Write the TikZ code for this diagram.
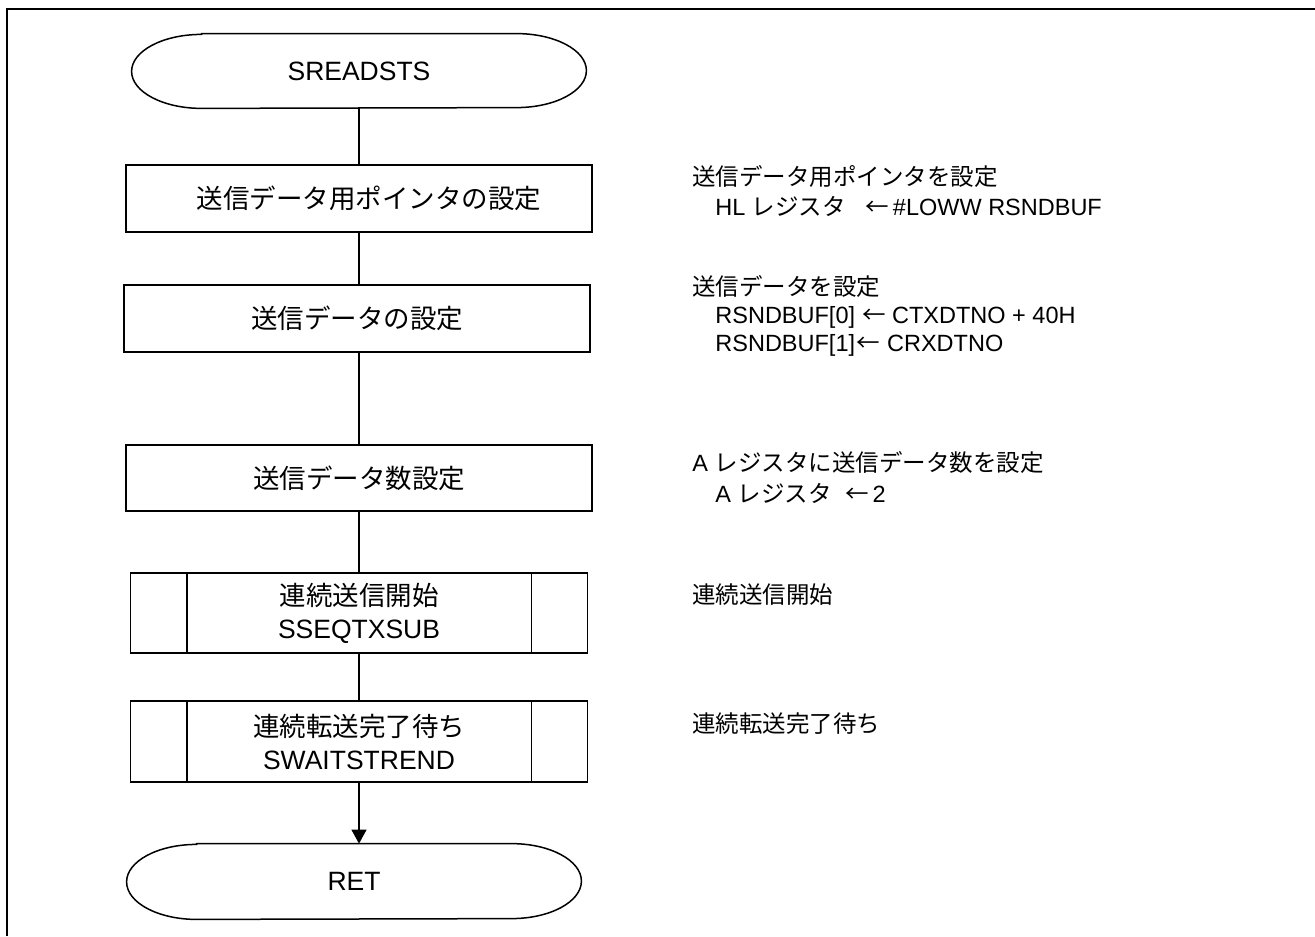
\documentclass[tikz,border=0pt]{standalone}
\usepackage{fontspec}
\setmainfont{Liberation Sans}
\newfontfamily\jp{Noto Sans CJK JP}
\usetikzlibrary{arrows.meta}
\newcommand\boxfont{\fontsize{13.25}{16.5}\selectfont}
\newcommand\sidefont{\fontsize{11.75}{14.25}\selectfont}
\newcommand\larr{\makebox[13.5pt][c]{\jp ←}}
\newcommand\termoutline[2]{%
  \draw[conn] ([xshift=35pt]#1.north west) -- ([xshift=-35pt]#1.north east)
    arc[start angle=90,end angle=-90,x radius=70,y radius=#2]
    -- ([xshift=35pt]#1.south west)
    arc[start angle=270,end angle=90,x radius=70,y radius=#2] -- cycle;}
\newcommand\subbars[1]{%
  \draw[conn] ([xshift=28.5pt]#1.north west) -- ([xshift=28.5pt]#1.south west);
  \draw[conn] ([xshift=-28.5pt]#1.north east) -- ([xshift=-28.5pt]#1.south east);}
\begin{document}
\begin{tikzpicture}[x=0.5pt,y=0.5pt,
  conn/.style={line width=0.75pt},
  frame/.style={line width=1.3pt},
  term/.style={rectangle, inner sep=0pt, minimum width=227pt, font=\boxfont, align=center},
  proc/.style={draw, line width=0.75pt, rectangle, inner sep=0pt, minimum width=233pt, minimum height=33.5pt, font=\boxfont, align=center},
  subr/.style={draw, line width=0.75pt, rectangle, inner sep=0pt, minimum width=228.5pt, minimum height=40pt, font=\boxfont, align=center},
  note/.style={anchor=base west, inner sep=0pt, font=\sidefont}
]
\useasboundingbox (0,0) rectangle (1315,-936);
\draw[frame] (7,-936) -- (7,-9) -- (1315,-9);

% flow nodes
\node[term, minimum height=37pt] (start) at (359,-71) {SREADSTS};
\termoutline{start}{37}
\node[proc] (b1) at (359,-198.5) {\hspace*{10pt}\jp 送信データ用ポインタの設定};
\node[proc] (b2) at (357,-318.5) {\jp 送信データの設定};
\node[proc, minimum height=33pt] (b3) at (359,-478) {\jp 送信データ数設定};
\node[subr] (s1) at (359,-613) {{\jp 連続送信開始}\\SSEQTXSUB};
\subbars{s1}
\node[subr, minimum height=40.5pt] (s2) at (359,-741.5) {{\jp 連続転送完了待ち}\\SWAITSTREND};
\subbars{s2}
\node[term, minimum height=37.5pt] (ret) at (354,-881.5) {RET};
\termoutline{ret}{37.5}

% connectors
\draw[conn] (start.south) -- (start.south |- b1.north);
\draw[conn] (b1.south) -- (b1.south |- b2.north);
\draw[conn] (b2.south -| b1.south) -- (b3.north);
\draw[conn] (b3.south) -- (s1.north);
\draw[conn] (s1.south) -- (s2.north);
\draw[conn, -{Triangle[length=7pt, width=7.5pt]}] (s2.south) -- (s2.south |- ret.north);

% annotations
\node[note] (a1a) at (692,-186) {\jp 送信データ用ポインタを設定};
\node[note] (a1b) at (715,-215) {HL {\jp レジスタ}\hspace{9pt}\larr\hspace{1pt}\#LOWW RSNDBUF};
\node[note] (a2a) at (692,-295) {\jp 送信データを設定};
\node[note] (a2b) at (715,-323) {RSNDBUF[0]\hspace{3pt}\larr\hspace{2pt}CTXDTNO + 40H};
\node[note] (a2c) at (715,-351) {RSNDBUF[1]\larr\hspace{2.5pt}CRXDTNO};
\node[note] (a3a) at (692,-471) {A {\jp レジスタに送信データ数を設定}};
\node[note] (a3b) at (715,-502) {A {\jp レジスタ}\hspace{6pt}\larr\hspace{1pt}2};
\node[note] (a4) at (692,-603) {\jp 連続送信開始};
\node[note] (a5) at (692,-732) {\jp 連続転送完了待ち};
\end{tikzpicture}
\end{document}
